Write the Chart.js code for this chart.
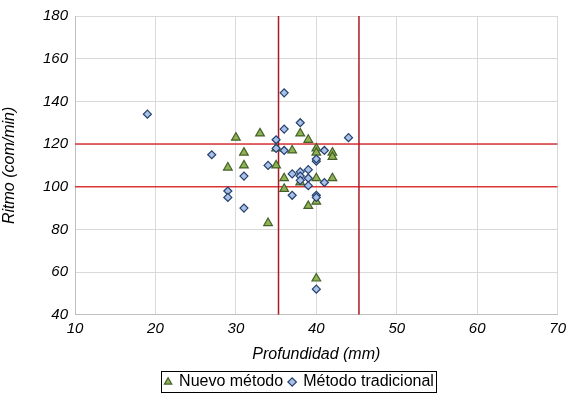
<!DOCTYPE html>
<html>
<head>
<meta charset="utf-8">
<script src="https://cdn.jsdelivr.net/npm/chart.js@4"></script>
<style>
  html, body { margin: 0; padding: 0; background: #fff; }
  #wrap { width: 571px; height: 401px; }
</style>
</head>
<body>
<div id="wrap"><canvas id="myChart"></canvas></div>
<script>
// Nuevo método (profundidad mm, ritmo com/min)
const nuevoX = [30, 31, 29, 31, 33, 35, 35, 36, 36, 34, 37, 38, 39, 40, 40, 42, 42, 40, 42, 38, 40, 39, 40];
const nuevoY = [123, 116, 109, 110, 125, 118, 110, 104, 99, 83, 117, 125, 122, 118, 116, 116, 114, 104, 104, 102, 93, 91, 57];

// Método tradicional
const tradX = [19, 27, 29, 29, 31, 31, 34, 35, 35, 36, 36, 36, 38, 44, 41, 40, 40, 37, 38, 39, 38, 38, 39, 41, 39, 37, 40, 40, 40];
const tradY = [134, 115, 98, 95, 105, 90, 110, 122, 118, 127, 117, 144, 130, 123, 117, 112, 113, 106, 107, 108, 105, 103, 104, 102, 100.5, 96, 96, 95, 52];

// reference lines
const limX = [35.3, 45.3];
const limY = [100, 120];

const xTicks = [10, 20, 30, 40, 50, 60, 70];
const yTicks = [40, 60, 80, 100, 120, 140, 160, 180];

function toPoints(xs, ys) {
  return xs.map((x, i) => ({ x: x, y: ys[i] }));
}

const font = "'Liberation Sans', Arial, sans-serif";

// line datasets for the red limits
const lineSets = [];
limX.forEach((v) => {
  lineSets.push({
    label: "lim",
    data: [{ x: v, y: 40 }, { x: v, y: 180 }],
    showLine: true,
    borderColor: "#a51c24",
    borderWidth: 1.5,
    pointRadius: 0,
    order: 5,
  });
});
limY.forEach((v) => {
  lineSets.push({
    label: "lim",
    data: [{ x: 10, y: v }, { x: 70, y: v }],
    showLine: true,
    borderColor: "#d9363a",
    borderWidth: 1.5,
    pointRadius: 0,
    order: 5,
  });
});

// moves the legend a bit right and draws the black box round it
const legendBox = {
  id: "legendBox",
  afterLayout(chart) {
    const lg = chart.legend;
    if (!lg) return;
    lg.left += 18;
    lg.right += 18;
  },
  afterDraw(chart) {
    const lg = chart.legend;
    if (!lg || !lg.legendHitBoxes.length) return;
    let l = Infinity, r = -Infinity, t = Infinity, b = -Infinity;
    lg.legendHitBoxes.forEach((h) => {
      l = Math.min(l, h.left);
      r = Math.max(r, h.left + h.width);
      t = Math.min(t, h.top);
      b = Math.max(b, h.top + h.height);
    });
    const ctx = chart.ctx;
    ctx.save();
    ctx.strokeStyle = "#000";
    ctx.lineWidth = 1;
    ctx.strokeRect(Math.round(l - 4) + 0.5, Math.round(t - 3) + 0.5, Math.round(r - l + 6), Math.round(b - t + 5));
    ctx.restore();
  },
};

const config = {
  type: "scatter",
  data: {
    datasets: [
      {
        label: "Nuevo método",
        data: toPoints(nuevoX, nuevoY),
        pointStyle: "triangle",
        pointRadius: 5,
        backgroundColor: "#8fb352",
        borderColor: "#44612a",
        borderWidth: 1.2,
        order: 2,
      },
      {
        label: "Método tradicional",
        data: toPoints(tradX, tradY),
        pointStyle: "rectRot",
        pointRadius: 4,
        backgroundColor: "#a9c1e6",
        borderColor: "#24406e",
        borderWidth: 1.2,
        order: 1,
      },
      ...lineSets,
    ],
  },
  options: {
    responsive: true,
    maintainAspectRatio: false,
    animation: false,
    layout: { padding: { top: 8, right: 8, left: 0, bottom: 1 } },
    scales: {
      x: {
        type: "linear",
        min: 10,
        max: 70,
        afterBuildTicks: (s) => { s.ticks = xTicks.map((v) => ({ value: v })); },
        grid: { color: "#d9d9d9", drawTicks: false },
        border: { color: "#bfbfbf" },
        ticks: {
          color: "#000",
          padding: 5,
          font: { family: font, size: 15, style: "italic" },
        },
        title: {
          display: true,
          text: "Profundidad (mm)",
          color: "#000",
          font: { family: font, size: 16, style: "italic" },
          padding: { top: 2, bottom: 4 },
        },
      },
      y: {
        type: "linear",
        min: 40,
        max: 180,
        afterBuildTicks: (s) => { s.ticks = yTicks.map((v) => ({ value: v })); },
        afterFit: (s) => { s.width = 75; },
        grid: { color: "#d9d9d9", drawTicks: false },
        border: { color: "#bfbfbf" },
        ticks: {
          color: "#000",
          padding: 7,
          font: { family: font, size: 15, style: "italic" },
        },
        title: {
          display: true,
          text: "Ritmo (com/min)",
          color: "#000",
          font: { family: font, size: 16, style: "italic" },
          padding: { top: 0, bottom: 2 },
        },
      },
    },
    plugins: {
      legend: {
        position: "bottom",
        labels: {
          color: "#000",
          usePointStyle: true,
          boxWidth: 6,
          boxHeight: 6,
          padding: 6,
          font: { family: font, size: 16 },
          filter: (item) => item.text !== "lim",
          sort: (a, b) => a.datasetIndex - b.datasetIndex,
        },
      },
      tooltip: { enabled: false },
    },
  },
  plugins: [legendBox],
};

const ctx = document.getElementById("myChart").getContext("2d");
const myChart = new Chart(ctx, config);
</script>
</body>
</html>
